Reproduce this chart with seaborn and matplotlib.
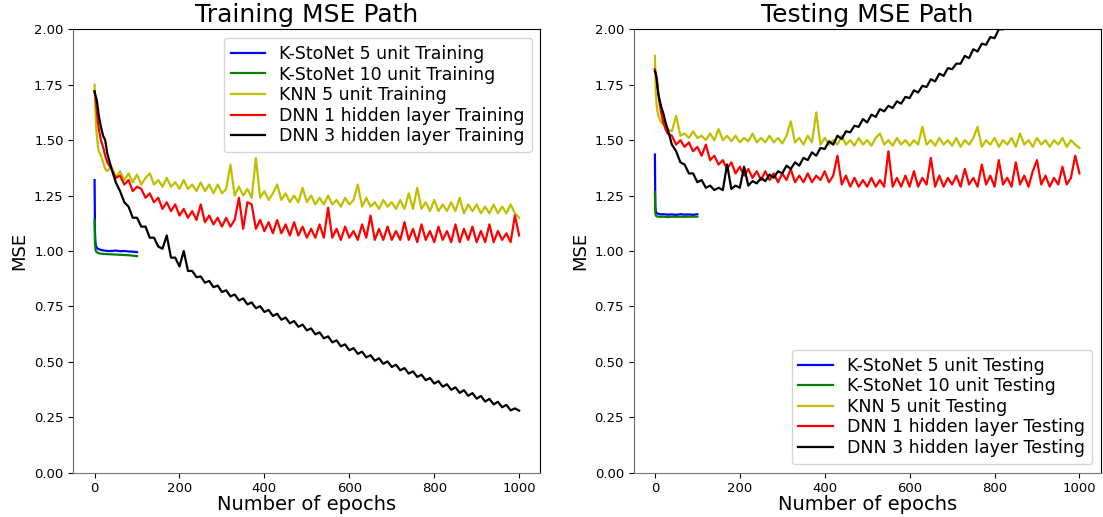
import numpy as np
import pandas as pd
import matplotlib
matplotlib.use("Agg")
import matplotlib.pyplot as plt
import seaborn as sns

# ---------------------------------------
# Data
# ---------------------------------------
# K-StoNet runs only last 100 epochs
ks_epochs = [0, 1, 2, 3, 5, 8, 10, 15, 20, 30, 40, 50, 60, 70, 80, 90, 100]

# long runs: a few early points, then every 10 epochs
long_epochs = [0, 2, 4, 6, 8, 10, 15, 20, 25, 30] + list(range(40, 1001, 10))

ks5_train = [1.32, 1.08, 1.04, 1.025, 1.015, 1.01, 1.008, 1.005, 1.003, 1.0,
             1.0, 1.002, 0.999, 1.0, 0.998, 0.997, 0.995]
ks10_train = [1.14, 1.03, 1.01, 1.0, 0.995, 0.992, 0.99, 0.988, 0.987, 0.986,
              0.985, 0.984, 0.983, 0.982, 0.981, 0.979, 0.977]

knn_train = [1.75, 1.62, 1.55, 1.51, 1.47, 1.45, 1.43, 1.40, 1.37, 1.36,
             1.38, 1.33, 1.36, 1.32, 1.35, 1.31, 1.345, 1.30, 1.33, 1.35,
             1.30, 1.32, 1.29, 1.33, 1.29, 1.31, 1.28, 1.32, 1.28, 1.30,
             1.27, 1.31, 1.27, 1.30, 1.26, 1.30, 1.26, 1.28, 1.39, 1.25,
             1.29, 1.25, 1.28, 1.24, 1.42, 1.24, 1.27, 1.23, 1.26, 1.30,
             1.23, 1.26, 1.22, 1.25, 1.22, 1.285, 1.22, 1.25, 1.21, 1.24,
             1.21, 1.25, 1.21, 1.23, 1.20, 1.24, 1.21, 1.23, 1.30, 1.20,
             1.24, 1.20, 1.22, 1.19, 1.23, 1.20, 1.22, 1.19, 1.23, 1.19,
             1.26, 1.19, 1.285, 1.19, 1.22, 1.18, 1.23, 1.18, 1.21, 1.18,
             1.22, 1.18, 1.24, 1.17, 1.21, 1.18, 1.21, 1.17, 1.20, 1.17,
             1.21, 1.17, 1.20, 1.17, 1.21, 1.17, 1.15]

dnn1_train = [1.72, 1.70, 1.66, 1.62, 1.58, 1.55, 1.50, 1.47, 1.43, 1.40,
              1.37, 1.33, 1.34, 1.30, 1.32, 1.27, 1.29, 1.28, 1.24, 1.26,
              1.22, 1.24, 1.19, 1.22, 1.18, 1.21, 1.16, 1.19, 1.15, 1.18,
              1.14, 1.21, 1.13, 1.16, 1.12, 1.15, 1.11, 1.15, 1.11, 1.14,
              1.24, 1.10, 1.22, 1.21, 1.10, 1.14, 1.09, 1.13, 1.08, 1.14,
              1.08, 1.12, 1.07, 1.13, 1.07, 1.11, 1.06, 1.10, 1.06, 1.12,
              1.06, 1.195, 1.06, 1.10, 1.05, 1.11, 1.06, 1.09, 1.05, 1.12,
              1.06, 1.16, 1.05, 1.10, 1.05, 1.11, 1.05, 1.09, 1.05, 1.13,
              1.05, 1.10, 1.04, 1.12, 1.05, 1.09, 1.04, 1.11, 1.05, 1.09,
              1.04, 1.12, 1.04, 1.10, 1.05, 1.11, 1.04, 1.09, 1.04, 1.12,
              1.04, 1.09, 1.05, 1.08, 1.04, 1.16, 1.07]

dnn3_train = [1.72, 1.70, 1.69, 1.67, 1.64, 1.61, 1.56, 1.52, 1.50, 1.44,
              1.37, 1.31, 1.27, 1.22, 1.20, 1.15, 1.15, 1.11, 1.11, 1.06,
              1.06, 1.02, 1.01, 1.07, 0.97, 0.97, 0.93, 1.00, 0.91, 0.91,
              0.882, 0.885, 0.857, 0.865, 0.837, 0.844, 0.815, 0.823, 0.795, 0.804,
              0.777, 0.786, 0.759, 0.768, 0.742, 0.751, 0.725, 0.734, 0.707, 0.717,
              0.69, 0.70, 0.674, 0.684, 0.658, 0.668, 0.642, 0.651, 0.624, 0.633,
              0.606, 0.615, 0.588, 0.597, 0.57, 0.579, 0.552, 0.562, 0.536, 0.546,
              0.52, 0.53, 0.505, 0.516, 0.491, 0.502, 0.477, 0.487, 0.462, 0.472,
              0.447, 0.457, 0.432, 0.442, 0.417, 0.427, 0.402, 0.413, 0.388, 0.399,
              0.374, 0.385, 0.36, 0.372, 0.347, 0.359, 0.334, 0.346, 0.321, 0.333,
              0.308, 0.32, 0.295, 0.306, 0.281, 0.29, 0.28]

ks5_test = [1.435, 1.20, 1.18, 1.175, 1.17, 1.168, 1.167, 1.165, 1.166, 1.164,
            1.165, 1.163, 1.166, 1.164, 1.165, 1.163, 1.166]
ks10_test = [1.265, 1.17, 1.162, 1.158, 1.156, 1.155, 1.155, 1.154, 1.155, 1.153,
             1.155, 1.154, 1.155, 1.154, 1.155, 1.155, 1.155]

knn_test = [1.88, 1.72, 1.66, 1.63, 1.61, 1.60, 1.58, 1.57, 1.56, 1.55,
            1.54, 1.61, 1.52, 1.53, 1.51, 1.54, 1.51, 1.52, 1.50, 1.53,
            1.50, 1.55, 1.50, 1.52, 1.495, 1.52, 1.49, 1.51, 1.495, 1.53,
            1.49, 1.51, 1.49, 1.52, 1.49, 1.51, 1.485, 1.52, 1.585, 1.49,
            1.51, 1.48, 1.52, 1.49, 1.625, 1.48, 1.51, 1.48, 1.50, 1.48,
            1.52, 1.48, 1.50, 1.475, 1.51, 1.48, 1.50, 1.475, 1.51, 1.53,
            1.48, 1.50, 1.475, 1.51, 1.48, 1.50, 1.475, 1.50, 1.48, 1.56,
            1.48, 1.50, 1.475, 1.51, 1.48, 1.50, 1.475, 1.51, 1.47, 1.50,
            1.48, 1.51, 1.56, 1.47, 1.50, 1.48, 1.51, 1.47, 1.50, 1.48,
            1.51, 1.47, 1.53, 1.48, 1.50, 1.47, 1.51, 1.48, 1.50, 1.47,
            1.50, 1.48, 1.51, 1.47, 1.50, 1.48, 1.465]

dnn1_test = [1.82, 1.80, 1.78, 1.75, 1.71, 1.68, 1.62, 1.58, 1.55, 1.53,
             1.52, 1.48, 1.50, 1.47, 1.49, 1.45, 1.47, 1.43, 1.48, 1.41,
             1.43, 1.39, 1.41, 1.37, 1.40, 1.35, 1.38, 1.34, 1.37, 1.33,
             1.36, 1.32, 1.36, 1.32, 1.35, 1.31, 1.35, 1.32, 1.37, 1.31,
             1.34, 1.31, 1.35, 1.31, 1.34, 1.32, 1.36, 1.31, 1.34, 1.43,
             1.30, 1.34, 1.29, 1.33, 1.29, 1.32, 1.29, 1.33, 1.29, 1.32,
             1.29, 1.45, 1.29, 1.33, 1.29, 1.34, 1.29, 1.36, 1.29, 1.33,
             1.30, 1.42, 1.29, 1.34, 1.29, 1.33, 1.30, 1.34, 1.29, 1.37,
             1.30, 1.33, 1.29, 1.39, 1.30, 1.34, 1.29, 1.41, 1.30, 1.33,
             1.29, 1.40, 1.30, 1.34, 1.29, 1.36, 1.41, 1.30, 1.34, 1.29,
             1.33, 1.30, 1.38, 1.30, 1.33, 1.43, 1.35]

dnn3_test = [1.81, 1.80, 1.78, 1.74, 1.71, 1.69, 1.65, 1.62, 1.58, 1.55,
             1.48, 1.45, 1.40, 1.39, 1.35, 1.35, 1.31, 1.32, 1.285, 1.295,
             1.275, 1.285, 1.275, 1.39, 1.28, 1.295, 1.285, 1.38, 1.295, 1.315,
             1.305, 1.33, 1.315, 1.345, 1.33, 1.36, 1.35, 1.385, 1.37, 1.40,
             1.385, 1.42, 1.41, 1.445, 1.43, 1.465, 1.46, 1.495, 1.48, 1.52,
             1.505, 1.54, 1.535, 1.565, 1.56, 1.595, 1.58, 1.615, 1.605, 1.64,
             1.63, 1.655, 1.645, 1.675, 1.665, 1.695, 1.69, 1.725, 1.715, 1.745,
             1.74, 1.775, 1.765, 1.80, 1.79, 1.825, 1.82, 1.845, 1.845, 1.88,
             1.87, 1.91, 1.90, 1.935, 1.93, 1.965, 1.96, 2.0, 2.0, 2.04,
             2.03, 2.07, 2.07, 2.10, 2.10, 2.13, 2.13, 2.16, 2.16, 2.19,
             2.19, 2.22, 2.22, 2.25, 2.26, 2.28, 2.30]

colors = ["b", "g", "y", "r", "k"]
names = ["K-StoNet 5 unit", "K-StoNet 10 unit", "KNN 5 unit",
         "DNN 1 hidden layer", "DNN 3 hidden layer"]

# ---------------------------------------
# Plot
# ---------------------------------------
fig = plt.figure(figsize=(11.03, 5.17), dpi=100)
ax1 = fig.add_axes([0.0665, 0.0857, 0.4234, 0.8576])
ax2 = fig.add_axes([0.5745, 0.0857, 0.4234, 0.8576])

panels = [
    (ax1, "Training", [ks5_train, ks10_train, knn_train, dnn1_train, dnn3_train], "upper right"),
    (ax2, "Testing", [ks5_test, ks10_test, knn_test, dnn1_test, dnn3_test], "lower right"),
]

for ax, kind, series, loc in panels:
    for i, vals in enumerate(series):
        x = ks_epochs if i < 2 else long_epochs
        sns.lineplot(x=x, y=vals, color=colors[i], linewidth=1.6,
                     label=f"{names[i]} {kind}", ax=ax, estimator=None)
    ax.set_ylim(0, 2.0)
    ax.set_xlim(-50, 1050)
    ax.set_yticks(np.arange(0, 2.01, 0.25))
    ax.set_xticks(range(0, 1001, 200))
    ax.tick_params(labelsize=9.5)
    ax.set_title(f"{kind} MSE Path", fontsize=18, pad=5)
    ax.set_xlabel("Number of epochs", fontsize=14, labelpad=0)
    ax.set_ylabel("MSE", fontsize=13)
    ax.legend(loc=loc, fontsize=12.5, labelspacing=0.15)
    ax.spines["left"].set_color("#666666")
    ax.spines["bottom"].set_color("#777777")

fig.savefig("out.png", dpi=100)
